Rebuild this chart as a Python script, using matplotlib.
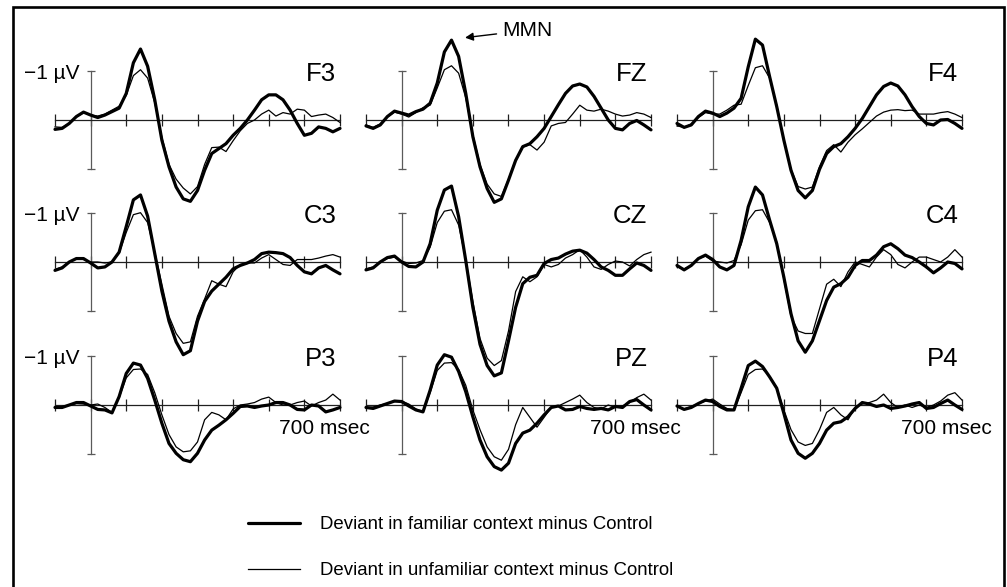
import matplotlib
matplotlib.use("Agg")
import matplotlib.pyplot as plt
from matplotlib.patches import Rectangle

plt.rcParams['font.family'] = ['Liberation Sans', 'DejaVu Sans']

# ---------------- data (µV, negative plotted upward) ----------------
times = list(range(-100, 701, 20))   # ms, 20 ms sampling

f3_familiar = [0.19, 0.17, 0.07, -0.07, -0.16, -0.10, -0.05, -0.10, -0.17, -0.24,
               -0.54, -1.16, -1.44, -1.09, -0.41, 0.41, 0.95, 1.36, 1.60, 1.65,
               1.43, 1.02, 0.68, 0.58, 0.48, 0.31, 0.17, 0.00, -0.20, -0.41,
               -0.51, -0.51, -0.41, -0.20, 0.07, 0.31, 0.27, 0.14, 0.17, 0.24, 0.17]
f3_unfamiliar = [0.14, 0.15, 0.07, -0.06, -0.15, -0.10, -0.08, -0.12, -0.20, -0.28,
                 -0.50, -0.90, -1.02, -0.85, -0.35, 0.35, 0.90, 1.20, 1.38, 1.50,
                 1.35, 0.90, 0.56, 0.55, 0.64, 0.42, 0.22, 0.07, 0.00, -0.12,
                 -0.20, -0.08, -0.15, -0.12, -0.22, -0.20, -0.07, -0.10, -0.12, -0.05, 0.05]

fz_familiar = [0.12, 0.17, 0.10, -0.07, -0.18, -0.14, -0.10, -0.17, -0.22, -0.34,
               -0.75, -1.38, -1.62, -1.29, -0.54, 0.34, 0.95, 1.39, 1.67, 1.60,
               1.22, 0.82, 0.54, 0.48, 0.34, 0.17, -0.07, -0.31, -0.54, -0.69,
               -0.73, -0.67, -0.48, -0.24, 0.00, 0.17, 0.20, 0.07, 0.01, 0.10, 0.20]
fz_unfamiliar = [0.10, 0.15, 0.08, -0.06, -0.16, -0.12, -0.06, -0.15, -0.25, -0.30,
                 -0.65, -1.02, -1.10, -0.95, -0.45, 0.30, 0.90, 1.30, 1.50, 1.55,
                 1.20, 0.80, 0.55, 0.50, 0.61, 0.45, 0.12, 0.07, 0.05, -0.12,
                 -0.30, -0.20, -0.18, -0.22, -0.18, -0.12, -0.08, -0.10, -0.15, -0.12, -0.05]

f4_familiar = [0.07, 0.15, 0.10, -0.07, -0.18, -0.14, -0.07, -0.14, -0.24, -0.44,
               -1.08, -1.64, -1.52, -0.88, -0.27, 0.41, 1.02, 1.43, 1.58, 1.43,
               1.00, 0.68, 0.54, 0.48, 0.34, 0.17, -0.03, -0.27, -0.51, -0.68,
               -0.75, -0.69, -0.51, -0.27, -0.07, 0.07, 0.10, 0.00, -0.01, 0.07, 0.17]
f4_unfamiliar = [0.12, 0.15, 0.08, -0.05, -0.15, -0.12, -0.12, -0.20, -0.30, -0.32,
                 -0.70, -1.06, -1.10, -0.85, -0.30, 0.40, 1.00, 1.35, 1.40, 1.36,
                 0.95, 0.62, 0.50, 0.65, 0.45, 0.30, 0.18, 0.05, -0.08, -0.16,
                 -0.20, -0.21, -0.19, -0.20, -0.12, -0.12, -0.12, -0.15, -0.17, -0.12, -0.05]

c3_familiar = [0.17, 0.12, 0.00, -0.07, -0.07, 0.02, 0.12, 0.10, 0.00, -0.20,
               -0.72, -1.26, -1.36, -0.93, -0.17, 0.59, 1.20, 1.62, 1.88, 1.80,
               1.20, 0.80, 0.59, 0.45, 0.31, 0.14, 0.07, 0.02, -0.05, -0.17,
               -0.20, -0.19, -0.17, -0.09, 0.07, 0.20, 0.24, 0.12, 0.07, 0.16, 0.24]
c3_unfamiliar = [0.15, 0.10, 0.00, -0.07, -0.05, 0.00, 0.00, 0.02, 0.00, -0.18,
                 -0.60, -0.96, -1.00, -0.80, -0.20, 0.45, 1.10, 1.45, 1.65, 1.62,
                 1.10, 0.75, 0.38, 0.45, 0.50, 0.20, 0.05, 0.02, 0.02, -0.08,
                 -0.15, -0.05, 0.05, 0.07, -0.05, -0.05, -0.05, -0.08, -0.12, -0.15, -0.10]

cz_familiar = [0.16, 0.12, 0.00, -0.09, -0.12, 0.00, 0.09, 0.10, 0.00, -0.37,
               -1.05, -1.46, -1.54, -0.92, -0.03, 0.92, 1.67, 2.10, 2.31, 2.25,
               1.60, 0.92, 0.44, 0.31, 0.27, 0.03, -0.05, -0.08, -0.16, -0.22,
               -0.24, -0.18, -0.05, 0.10, 0.17, 0.27, 0.27, 0.14, 0.02, 0.07, 0.17]
cz_unfamiliar = [0.14, 0.10, 0.00, -0.07, -0.10, -0.02, 0.03, 0.02, -0.03, -0.30,
                 -0.80, -1.03, -1.06, -0.75, -0.05, 0.80, 1.55, 1.95, 2.10, 2.00,
                 1.40, 0.60, 0.30, 0.40, 0.30, 0.05, 0.10, 0.05, -0.08, -0.15,
                 -0.25, -0.10, 0.10, 0.15, 0.05, -0.02, 0.00, 0.08, -0.05, -0.15, -0.20]

c4_familiar = [0.07, 0.16, 0.07, -0.07, -0.14, -0.05, 0.10, 0.16, 0.07, -0.44,
               -1.12, -1.52, -1.36, -0.85, -0.37, 0.31, 1.05, 1.60, 1.83, 1.60,
               1.19, 0.78, 0.51, 0.44, 0.31, 0.07, -0.03, -0.03, -0.14, -0.31,
               -0.37, -0.27, -0.14, -0.09, 0.00, 0.10, 0.22, 0.12, 0.00, 0.03, 0.14]
c4_unfamiliar = [0.10, 0.14, 0.07, -0.07, -0.12, -0.02, 0.00, 0.02, -0.03, -0.35,
                 -0.85, -1.04, -1.06, -0.80, -0.40, 0.35, 1.10, 1.40, 1.45, 1.45,
                 0.95, 0.45, 0.35, 0.50, 0.20, 0.00, 0.05, 0.10, -0.10, -0.25,
                 -0.15, 0.05, 0.12, 0.00, -0.10, -0.10, -0.05, 0.00, -0.10, -0.25, -0.10]

p3_familiar = [0.05, 0.05, 0.00, -0.05, -0.05, 0.02, 0.09, 0.10, 0.16, -0.17,
               -0.64, -0.85, -0.81, -0.54, -0.10, 0.37, 0.78, 0.98, 1.11, 1.15,
               0.98, 0.71, 0.51, 0.41, 0.30, 0.17, 0.03, 0.02, 0.05, 0.02,
               0.00, -0.05, -0.05, 0.00, 0.09, 0.10, 0.00, 0.02, 0.14, 0.10, 0.05]
p3_unfamiliar = [0.05, 0.03, 0.00, -0.03, -0.02, 0.00, -0.02, 0.05, 0.15, -0.15,
                 -0.55, -0.72, -0.73, -0.62, -0.25, 0.20, 0.60, 0.85, 0.95, 0.93,
                 0.75, 0.30, 0.15, 0.20, 0.30, 0.08, 0.00, -0.02, -0.05, -0.12,
                 -0.16, -0.05, 0.00, 0.00, -0.05, -0.08, 0.02, -0.05, -0.10, -0.22, -0.10]

pz_familiar = [0.05, 0.07, 0.02, -0.03, -0.08, -0.07, 0.02, 0.10, 0.14, -0.30,
               -0.81, -1.02, -0.97, -0.68, -0.27, 0.24, 0.71, 1.05, 1.25, 1.32,
               1.18, 0.78, 0.57, 0.51, 0.37, 0.20, 0.05, 0.02, 0.10, 0.09,
               0.03, 0.07, 0.09, 0.07, 0.10, 0.03, 0.05, -0.07, -0.11, 0.00, 0.10]
pz_unfamiliar = [0.05, 0.04, 0.00, -0.03, -0.07, -0.08, -0.02, 0.08, 0.14, -0.25,
                 -0.70, -0.85, -0.86, -0.72, -0.40, 0.10, 0.50, 0.85, 1.05, 1.12,
                 0.90, 0.40, 0.05, 0.25, 0.45, 0.25, 0.05, 0.02, -0.05, -0.12,
                 -0.20, -0.05, 0.05, 0.08, 0.00, 0.05, 0.02, -0.05, -0.15, -0.22, -0.10]

p4_familiar = [0.02, 0.09, 0.05, -0.03, -0.10, -0.07, 0.03, 0.10, 0.10, -0.34,
               -0.80, -0.89, -0.78, -0.57, -0.34, 0.17, 0.71, 0.98, 1.08, 0.98,
               0.78, 0.51, 0.37, 0.34, 0.24, 0.07, -0.05, -0.02, 0.03, 0.00,
               0.07, 0.05, 0.02, -0.02, -0.05, 0.07, 0.05, -0.03, -0.10, 0.00, 0.09]
p4_unfamiliar = [0.03, 0.08, 0.03, -0.03, -0.08, -0.12, -0.02, 0.07, 0.10, -0.25,
                 -0.62, -0.72, -0.73, -0.58, -0.35, 0.10, 0.50, 0.75, 0.82, 0.78,
                 0.50, 0.15, 0.05, 0.20, 0.30, 0.05, -0.02, -0.05, -0.10, -0.22,
                 -0.05, 0.05, 0.00, 0.05, 0.00, 0.05, 0.00, -0.08, -0.20, -0.25, -0.10]

electrodes = [["F3", "FZ", "F4"], ["C3", "CZ", "C4"], ["P3", "PZ", "P4"]]
legend_labels = ["Deviant in familiar context minus Control",
                 "Deviant in unfamiliar context minus Control"]

familiar = {"F3": f3_familiar, "FZ": fz_familiar, "F4": f4_familiar,
            "C3": c3_familiar, "CZ": cz_familiar, "C4": c4_familiar,
            "P3": p3_familiar, "PZ": pz_familiar, "P4": p4_familiar}
unfamiliar = {"F3": f3_unfamiliar, "FZ": fz_unfamiliar, "F4": f4_unfamiliar,
              "C3": c3_unfamiliar, "CZ": cz_unfamiliar, "C4": c4_unfamiliar,
              "P3": p3_unfamiliar, "PZ": pz_unfamiliar, "P4": p4_unfamiliar}

# ---------------- layout ----------------
W, H = 1007, 587
fig = plt.figure(figsize=(W / 100, H / 100), dpi=100)
fig.patch.set_facecolor("white")

col_x0 = [55, 366, 677]        # pixel x of -100 ms
row_base = [120, 262, 405]     # pixel y of 0 µV
ax_w = 285                     # px for 800 ms
px_uv = 49.3                   # px per µV
half = 1.5

handles = None
for r in range(3):
    for c in range(3):
        name = electrodes[r][c]
        x0 = col_x0[c]
        yb = row_base[r]
        ax = fig.add_axes([x0 / W, 1 - (yb + half * px_uv) / H,
                           ax_w / W, 2 * half * px_uv / H])
        ax.set_xlim(-100, 700)
        ax.set_ylim(half, -half)
        ax.patch.set_visible(False)
        for s in ("top", "right"):
            ax.spines[s].set_visible(False)
        ax.spines["bottom"].set_position(("data", 0))
        ax.spines["bottom"].set_bounds(-100, 700)
        ax.spines["bottom"].set_color("#202020")
        ax.spines["bottom"].set_linewidth(0.9)
        ax.spines["left"].set_position(("data", 0))
        ax.spines["left"].set_bounds(-1, 1)
        ax.spines["left"].set_color("#5a5a5a")
        ax.spines["left"].set_linewidth(0.9)
        ax.set_xticks(range(-100, 701, 100))
        ax.set_yticks([-1, 1])
        ax.tick_params(axis="x", direction="inout", length=8, width=0.9,
                       color="#202020", labelbottom=False)
        ax.tick_params(axis="y", direction="inout", length=6, width=0.9,
                       color="#5a5a5a", labelleft=False)

        l1, = ax.plot(times, familiar[name], color="black", lw=2.3,
                      solid_joinstyle="round", solid_capstyle="round",
                      clip_on=False, zorder=4)
        l2, = ax.plot(times, unfamiliar[name], color="black", lw=0.9,
                      solid_joinstyle="round", clip_on=False, zorder=3)
        if handles is None:
            handles = [l1, l2]

        ax.text(690, -0.79, name, ha="right", va="baseline", fontsize=18.5)
        if c == 0:
            ax.text(-30, -0.83, "\u22121 \u00b5V", ha="right", va="baseline",
                    fontsize=15)
        if r == 2:
            ax.text(530, 0.59, "700 msec", ha="left", va="baseline", fontsize=15)
        if name == "FZ":
            ax.annotate("MMN", xy=(178, -1.67), xytext=(282, -1.82),
                        ha="left", va="center", fontsize=15,
                        annotation_clip=False,
                        arrowprops=dict(arrowstyle="-|>", color="black", lw=1.0,
                                        mutation_scale=12, shrinkA=2, shrinkB=0))

fig.legend(handles, legend_labels, loc="upper left",
           bbox_to_anchor=(248 / W, 1 - 516 / H), frameon=False,
           fontsize=13.4, handlelength=2.8, handletextpad=1.07,
           labelspacing=1.57, borderpad=0, borderaxespad=0)

fig.add_artist(Rectangle((13 / W, -0.05), (1004 - 13) / W, 1 - 7 / H + 0.05,
                         transform=fig.transFigure, fill=False,
                         edgecolor="black", lw=1.9))

fig.savefig("out.png", dpi=100)
